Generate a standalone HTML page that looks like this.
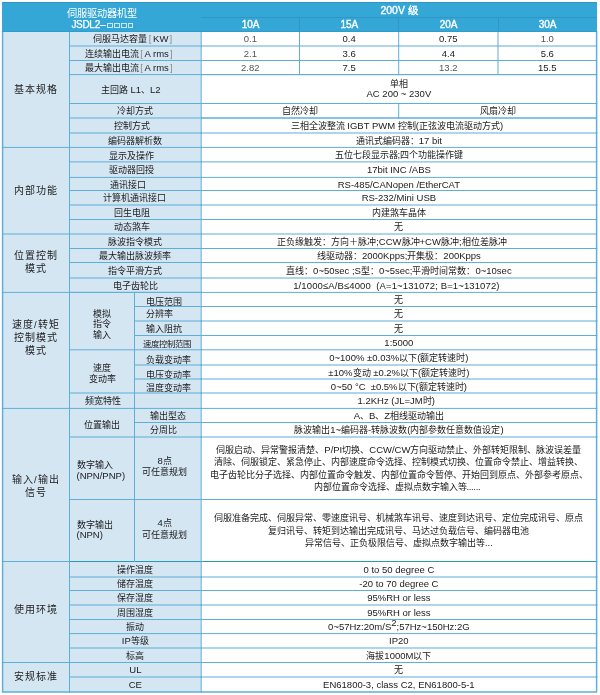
<!DOCTYPE html>
<html lang="zh-CN"><head><meta charset="utf-8"><style>
*{margin:0;padding:0;box-sizing:border-box}
html,body{width:600px;height:695px;background:#fff;overflow:hidden}
body{position:relative;font-family:"Liberation Sans",sans-serif;color:#1a1a1a}
.c{position:absolute;display:flex;flex-direction:column;align-items:center;justify-content:center;text-align:center;white-space:nowrap;font-size:9px;line-height:12px}
i{position:absolute;background:#5eaed8;display:block}
i.hl{background:#2e97c6}
i.hl2{background:#2f9dcc}
.hd{color:#fff;font-size:10px}
.hv2{font-size:10.5px}
.hv,.hv2{-webkit-text-stroke:0.35px #fff}
.h1{font-size:10.2px;line-height:11px}
.h2{font-size:10px;line-height:12px;letter-spacing:-0.3px;-webkit-text-stroke:0.25px #fff;margin-left:1.5px}
.sq{display:inline-block;width:5.4px;height:5.2px;border:1px solid rgba(255,255,255,0.72);margin-left:1.5px;vertical-align:0.3px}
.sq:first-of-type{margin-left:2.2px}
.cat{font-size:10px;line-height:12.8px;color:#222;letter-spacing:1.2px}
.lab{font-size:9px}
.val,.lab{padding-top:1.2px}
.sm{font-size:8.3px}
.br{color:#8a8a8a}
.bl{margin:0 1.6px 0 1.4px}
.brr{margin:0 0 0 1.2px}
.l{font-size:9.5px}
.ml1{line-height:9.5px}
.ml2{line-height:10.5px}
.ml3{line-height:10.5px}
.ml4{line-height:11.6px}
.big{line-height:12.6px}
.dots{letter-spacing:-0.35px}
sup{font-size:4.5px;line-height:0;vertical-align:4px}
.c>div{filter:blur(0.3px)}
</style></head><body>
<div class="c cat" style="left:2.6px;top:31.5px;width:66.9px;height:115.9px;background:#d5e6f3;"><div style="transform:translate(0px,1.3px);">基本规格</div></div>
<div class="c cat" style="left:2.6px;top:147.4px;width:66.9px;height:86.6px;background:#d5e6f3;"><div style="transform:translate(0px,1.2px);">内部功能</div></div>
<div class="c cat" style="left:2.6px;top:234px;width:66.9px;height:58.4px;background:#d5e6f3;"><div>位置控制<br>模式</div></div>
<div class="c cat" style="left:2.6px;top:292.4px;width:66.9px;height:116px;background:#d5e6f3;"><div style="transform:translate(0px,-11.9px);">速度<span class="l">/</span>转矩<br>控制模式<br>模式</div></div>
<div class="c cat" style="left:2.6px;top:408.4px;width:66.9px;height:153.1px;background:#d5e6f3;"><div style="transform:translate(0px,2.4px);">输入<span class="l">/</span>输出<br>信号</div></div>
<div class="c cat" style="left:2.6px;top:561.5px;width:66.9px;height:101px;background:#d5e6f3;"><div style="transform:translate(0px,-2.2px);">使用环境</div></div>
<div class="c cat" style="left:2.6px;top:662.5px;width:66.9px;height:29.5px;background:#d5e6f3;"><div>安规标准</div></div>
<div class="c lab" style="left:69.5px;top:31.5px;width:131.7px;height:14.5px;background:#d5e6f3;"><div style="transform:translate(-2.5px,0px);">伺服马达容量<span class="br bl"><span class="l">[</span></span><span class="l">KW</span><span class="br brr"><span class="l">]</span></span></div></div>
<div class="c lab" style="left:69.5px;top:46px;width:131.7px;height:14.5px;background:#d5e6f3;"><div style="transform:translate(-6.5px,0px);">连续输出电流<span class="br bl"><span class="l">[</span></span><span class="l">A rms</span><span class="br brr"><span class="l">]</span></span></div></div>
<div class="c lab" style="left:69.5px;top:60.5px;width:131.7px;height:14.1px;background:#d5e6f3;"><div style="transform:translate(-6.5px,0px);">最大输出电流<span class="br bl"><span class="l">[</span></span><span class="l">A rms</span><span class="br brr"><span class="l">]</span></span></div></div>
<div class="c lab" style="left:69.5px;top:103.5px;width:131.7px;height:14.5px;background:#d5e6f3;"><div>冷却方式</div></div>
<div class="c lab" style="left:69.5px;top:118px;width:131.7px;height:15px;background:#d5e6f3;"><div style="transform:translate(-3px,0px);">控制方式</div></div>
<div class="c lab" style="left:69.5px;top:133px;width:131.7px;height:14.4px;background:#d5e6f3;"><div>编码器解析数</div></div>
<div class="c lab" style="left:69.5px;top:147.4px;width:131.7px;height:14.5px;background:#d5e6f3;"><div style="transform:translate(-3.8px,0.8px);">显示及操作</div></div>
<div class="c lab" style="left:69.5px;top:161.9px;width:131.7px;height:15.5px;background:#d5e6f3;"><div style="transform:translate(-3.6px,0px);">驱动器回授</div></div>
<div class="c lab" style="left:69.5px;top:177.4px;width:131.7px;height:13.1px;background:#d5e6f3;"><div style="transform:translate(-7.8px,0px);">通讯接口</div></div>
<div class="c lab" style="left:69.5px;top:190.5px;width:131.7px;height:14.5px;background:#d5e6f3;"><div style="transform:translate(-0.5px,0px);">计算机通讯接口</div></div>
<div class="c lab" style="left:69.5px;top:205px;width:131.7px;height:14.5px;background:#d5e6f3;"><div style="transform:translate(-3px,0px);">回生电阻</div></div>
<div class="c lab" style="left:69.5px;top:219.5px;width:131.7px;height:14.5px;background:#d5e6f3;"><div style="transform:translate(-3.2px,0px);">动态煞车</div></div>
<div class="c lab" style="left:69.5px;top:234px;width:131.7px;height:14.5px;background:#d5e6f3;"><div>脉波指令模式</div></div>
<div class="c lab" style="left:69.5px;top:248.5px;width:131.7px;height:14px;background:#d5e6f3;"><div>最大输出脉波频率</div></div>
<div class="c lab" style="left:69.5px;top:262.5px;width:131.7px;height:15.5px;background:#d5e6f3;"><div>指令平滑方式</div></div>
<div class="c lab" style="left:69.5px;top:278px;width:131.7px;height:14.4px;background:#d5e6f3;"><div>电子齿轮比</div></div>
<div class="c lab" style="left:69.5px;top:561.5px;width:131.7px;height:15.5px;background:#d5e6f3;"><div>操作温度</div></div>
<div class="c lab" style="left:69.5px;top:577px;width:131.7px;height:13.5px;background:#d5e6f3;"><div>储存温度</div></div>
<div class="c lab" style="left:69.5px;top:590.5px;width:131.7px;height:14.5px;background:#d5e6f3;"><div>保存湿度</div></div>
<div class="c lab" style="left:69.5px;top:605px;width:131.7px;height:14.5px;background:#d5e6f3;"><div>周围湿度</div></div>
<div class="c lab" style="left:69.5px;top:619.5px;width:131.7px;height:14.1px;background:#d5e6f3;"><div>振动</div></div>
<div class="c lab" style="left:69.5px;top:633.6px;width:131.7px;height:14.4px;background:#d5e6f3;"><div><span class="l">IP</span>等级</div></div>
<div class="c lab" style="left:69.5px;top:648px;width:131.7px;height:14.5px;background:#d5e6f3;"><div>标高</div></div>
<div class="c lab" style="left:69.5px;top:662.5px;width:131.7px;height:14.5px;background:#d5e6f3;"><div><span class="l">UL</span></div></div>
<div class="c lab" style="left:69.5px;top:677px;width:131.7px;height:15px;background:#d5e6f3;"><div><span class="l">CE</span></div></div>
<div class="c lab" style="left:69.5px;top:74.6px;width:131.7px;height:28.9px;background:#d5e6f3;"><div style="transform:translate(-4.6px,0px);">主回路<span class="l"> L1</span>、<span class="l">L2</span></div></div>
<div class="c lab ml2" style="left:69.5px;top:292.4px;width:65px;height:57.4px;background:#d5e6f3;"><div style="transform:translate(0px,3px);">模拟<br>指令<br>输入</div></div>
<div class="c lab ml2" style="left:69.5px;top:349.8px;width:65px;height:43.2px;background:#d5e6f3;"><div style="transform:translate(0px,1.5px);">速度<br>变动率</div></div>
<div class="c lab" style="left:69.5px;top:393px;width:65px;height:15.4px;background:#d5e6f3;"><div style="transform:translate(1.3px,0px);">频宽特性</div></div>
<div class="c lab" style="left:134.5px;top:292.4px;width:66.7px;height:14.1px;background:#d5e6f3;align-items:flex-start;padding-left:11.6px"><div style="transform:translate(0px,1.8px);">电压范围</div></div>
<div class="c lab" style="left:134.5px;top:306.5px;width:66.7px;height:14.5px;background:#d5e6f3;align-items:flex-start;padding-left:11.6px"><div>分辨率</div></div>
<div class="c lab" style="left:134.5px;top:321px;width:66.7px;height:14.5px;background:#d5e6f3;align-items:flex-start;padding-left:11.6px"><div style="transform:translate(0px,0.3px);">输入阻抗</div></div>
<div class="c lab" style="left:134.5px;top:335.5px;width:66.7px;height:14.3px;background:#d5e6f3;align-items:flex-start;padding-left:8.3px"><div style="transform:translate(0px,0.5px);"><span class="sm">速度控制范围</span></div></div>
<div class="c lab" style="left:134.5px;top:349.8px;width:66.7px;height:15.2px;background:#d5e6f3;align-items:flex-start;padding-left:11.6px"><div style="transform:translate(0px,1.7px);">负载变动率</div></div>
<div class="c lab" style="left:134.5px;top:365px;width:66.7px;height:14px;background:#d5e6f3;align-items:flex-start;padding-left:11.6px"><div style="transform:translate(0px,1.6px);">电压变动率</div></div>
<div class="c lab" style="left:134.5px;top:379px;width:66.7px;height:14px;background:#d5e6f3;align-items:flex-start;padding-left:11.6px"><div style="transform:translate(0px,1.1px);">温度变动率</div></div>
<div class="c lab" style="left:134.5px;top:393px;width:66.7px;height:15.4px;background:#d5e6f3;align-items:flex-start;padding-left:11.6px"><div></div></div>
<div class="c lab" style="left:69.5px;top:408.4px;width:65px;height:28.6px;background:#d5e6f3;"><div style="transform:translate(0px,2px);">位置输出</div></div>
<div class="c lab" style="left:134.5px;top:408.4px;width:66.7px;height:14.1px;background:#d5e6f3;align-items:flex-start;padding-left:15.2px"><div>输出型态</div></div>
<div class="c lab" style="left:134.5px;top:422.5px;width:66.7px;height:14.5px;background:#d5e6f3;align-items:flex-start;padding-left:15.2px"><div>分周比</div></div>
<div class="c lab ml3" style="left:69.5px;top:437px;width:65px;height:62.5px;background:#d5e6f3;align-items:flex-start;text-align:left;padding-left:7px"><div style="transform:translate(0px,1.5px);">数字输入<br><span class="l">(NPN/PNP)</span></div></div>
<div class="c lab ml4" style="left:134.5px;top:437px;width:66.7px;height:62.5px;background:#d5e6f3;"><div style="transform:translate(-3.2px,-1.6px);"><span class="l">8</span>点<br>可任意规划</div></div>
<div class="c lab ml3" style="left:69.5px;top:499.5px;width:65px;height:62px;background:#d5e6f3;align-items:flex-start;text-align:left;padding-left:7px"><div style="transform:translate(0px,-1.3px);">数字输出<br><span class="l">(NPN)</span></div></div>
<div class="c lab ml4" style="left:134.5px;top:499.5px;width:66.7px;height:62px;background:#d5e6f3;"><div style="transform:translate(-3.2px,-2.2px);"><span class="l">4</span>点<br>可任意规划</div></div>
<div class="c val" style="left:201.2px;top:31.5px;width:98.3px;height:14.5px;background:#ffffff;color:#555;"><div><span class="l">0.1</span></div></div>
<div class="c val" style="left:299.5px;top:31.5px;width:99.2px;height:14.5px;background:#ffffff;"><div><span class="l">0.4</span></div></div>
<div class="c val" style="left:398.7px;top:31.5px;width:99.3px;height:14.5px;background:#ffffff;"><div><span class="l">0.75</span></div></div>
<div class="c val" style="left:498px;top:31.5px;width:98.6px;height:14.5px;background:#ffffff;color:#555;"><div><span class="l">1.0</span></div></div>
<div class="c val" style="left:201.2px;top:46px;width:98.3px;height:14.5px;background:#ffffff;color:#555;"><div><span class="l">2.1</span></div></div>
<div class="c val" style="left:299.5px;top:46px;width:99.2px;height:14.5px;background:#ffffff;"><div><span class="l">3.6</span></div></div>
<div class="c val" style="left:398.7px;top:46px;width:99.3px;height:14.5px;background:#ffffff;"><div><span class="l">4.4</span></div></div>
<div class="c val" style="left:498px;top:46px;width:98.6px;height:14.5px;background:#ffffff;"><div><span class="l">5.6</span></div></div>
<div class="c val" style="left:201.2px;top:60.5px;width:98.3px;height:14.1px;background:#ffffff;color:#555;"><div><span class="l">2.82</span></div></div>
<div class="c val" style="left:299.5px;top:60.5px;width:99.2px;height:14.1px;background:#ffffff;"><div><span class="l">7.5</span></div></div>
<div class="c val" style="left:398.7px;top:60.5px;width:99.3px;height:14.1px;background:#ffffff;color:#555;"><div><span class="l">13.2</span></div></div>
<div class="c val" style="left:498px;top:60.5px;width:98.6px;height:14.1px;background:#ffffff;"><div><span class="l">15.5</span></div></div>
<div class="c val ml1" style="left:201.2px;top:74.6px;width:395.4px;height:28.9px;background:#ffffff;"><div>单相<br><span class="l">AC 200 ~ 230V</span></div></div>
<div class="c val" style="left:201.2px;top:103.5px;width:197.5px;height:14.5px;background:#ffffff;"><div>自然冷却</div></div>
<div class="c val" style="left:398.7px;top:103.5px;width:197.9px;height:14.5px;background:#ffffff;"><div>风扇冷却</div></div>
<div class="c val" style="left:201.2px;top:118px;width:395.4px;height:15px;background:#ffffff;"><div style="transform:translate(-2px,0px);">三相全波整流<span class="l"> IGBT PWM </span>控制<span class="l">(</span>正弦波电流驱动方式<span class="l">)</span></div></div>
<div class="c val" style="left:201.2px;top:133px;width:395.4px;height:14.4px;background:#ffffff;"><div>通讯式编码器：<span class="l">17 bit</span></div></div>
<div class="c val" style="left:201.2px;top:147.4px;width:395.4px;height:14.5px;background:#ffffff;"><div>五位七段显示器<span class="l">;</span>四个功能操作键</div></div>
<div class="c val" style="left:201.2px;top:161.9px;width:395.4px;height:15.5px;background:#ffffff;"><div><span class="l">17bit INC /ABS</span></div></div>
<div class="c val" style="left:201.2px;top:177.4px;width:395.4px;height:13.1px;background:#ffffff;"><div><span class="l">RS-485/CANopen /EtherCAT</span></div></div>
<div class="c val" style="left:201.2px;top:190.5px;width:395.4px;height:14.5px;background:#ffffff;"><div><span class="l">RS-232/Mini USB</span></div></div>
<div class="c val" style="left:201.2px;top:205px;width:395.4px;height:14.5px;background:#ffffff;"><div>内建煞车晶体</div></div>
<div class="c val" style="left:201.2px;top:219.5px;width:395.4px;height:14.5px;background:#ffffff;"><div>无</div></div>
<div class="c val" style="left:201.2px;top:234px;width:395.4px;height:14.5px;background:#ffffff;"><div style="transform:translate(-7px,0px);">正负缘触发：方向＋脉冲<span class="l">;CCW</span>脉冲<span class="l">+CW</span>脉冲<span class="l">;</span>相位差脉冲</div></div>
<div class="c val" style="left:201.2px;top:248.5px;width:395.4px;height:14px;background:#ffffff;"><div>线驱动器：<span class="l">2000Kpps;</span>开集极：<span class="l">200Kpps</span></div></div>
<div class="c val" style="left:201.2px;top:262.5px;width:395.4px;height:15.5px;background:#ffffff;"><div>直线：<span class="l">0~50sec ;S</span>型：<span class="l">0~5sec;</span>平滑时间常数：<span class="l">0~10sec</span></div></div>
<div class="c val" style="left:201.2px;top:278px;width:395.4px;height:14.4px;background:#ffffff;letter-spacing:0.12px;"><div style="transform:translate(-2.5px,0px);"><span class="l">1/1000≤A/B≤4000</span>&nbsp;<span class="l"> (A=1~131072; B=1~131072)</span></div></div>
<div class="c val" style="left:201.2px;top:292.4px;width:395.4px;height:14.1px;background:#ffffff;"><div>无</div></div>
<div class="c val" style="left:201.2px;top:306.5px;width:395.4px;height:14.5px;background:#ffffff;"><div>无</div></div>
<div class="c val" style="left:201.2px;top:321px;width:395.4px;height:14.5px;background:#ffffff;"><div>无</div></div>
<div class="c val" style="left:201.2px;top:335.5px;width:395.4px;height:14.3px;background:#ffffff;"><div><span class="l">1:5000</span></div></div>
<div class="c val" style="left:201.2px;top:349.8px;width:395.4px;height:15.2px;background:#ffffff;"><div><span class="l">0~100% ±0.03%</span>以下<span class="l">(</span>额定转速时<span class="l">)</span></div></div>
<div class="c val" style="left:201.2px;top:365px;width:395.4px;height:14px;background:#ffffff;"><div><span class="l">±10%</span>变动<span class="l"> ±0.2%</span>以下<span class="l">(</span>额定转速时<span class="l">)</span></div></div>
<div class="c val" style="left:201.2px;top:379px;width:395.4px;height:14px;background:#ffffff;"><div><span class="l">0~50 °C</span>&nbsp;<span class="l"> ±0.5%</span>以下<span class="l">(</span>额定转速时<span class="l">)</span></div></div>
<div class="c val" style="left:201.2px;top:393px;width:395.4px;height:15.4px;background:#ffffff;"><div style="transform:translate(-2.7px,0px);"><span class="l">1.2KHz (JL=JM</span>时<span class="l">)</span></div></div>
<div class="c val" style="left:201.2px;top:408.4px;width:395.4px;height:14.1px;background:#ffffff;"><div><span class="l">A</span>、<span class="l">B</span>、<span class="l">Z</span>相线驱动输出</div></div>
<div class="c val" style="left:201.2px;top:422.5px;width:395.4px;height:14.5px;background:#ffffff;"><div>脉波输出<span class="l">1~</span>编码器<span class="l">-</span>转脉波数<span class="l">(</span>内部参数任意数值设定<span class="l">)</span></div></div>
<div class="c val" style="left:201.2px;top:561.5px;width:395.4px;height:15.5px;background:#ffffff;"><div><span class="l">0 to 50 degree C</span></div></div>
<div class="c val" style="left:201.2px;top:577px;width:395.4px;height:13.5px;background:#ffffff;"><div><span class="l">-20 to 70 degree C</span></div></div>
<div class="c val" style="left:201.2px;top:590.5px;width:395.4px;height:14.5px;background:#ffffff;"><div><span class="l">95%RH or less</span></div></div>
<div class="c val" style="left:201.2px;top:605px;width:395.4px;height:14.5px;background:#ffffff;"><div><span class="l">95%RH or less</span></div></div>
<div class="c val" style="left:201.2px;top:619.5px;width:395.4px;height:14.1px;background:#ffffff;"><div><span class="l">0~57Hz:20m/S</span><sup><span class="l">2</span></sup><span class="l">;57Hz~150Hz:2G</span></div></div>
<div class="c val" style="left:201.2px;top:633.6px;width:395.4px;height:14.4px;background:#ffffff;"><div><span class="l">IP20</span></div></div>
<div class="c val" style="left:201.2px;top:648px;width:395.4px;height:14.5px;background:#ffffff;"><div>海拔<span class="l">1000M</span>以下</div></div>
<div class="c val" style="left:201.2px;top:662.5px;width:395.4px;height:14.5px;background:#ffffff;"><div>无</div></div>
<div class="c val" style="left:201.2px;top:677px;width:395.4px;height:15px;background:#ffffff;"><div><span class="l">EN61800-3, class C2, EN61800-5-1</span></div></div>
<div class="c val big" style="left:201.2px;top:437px;width:395.4px;height:62.5px;background:#ffffff;"><div style="transform:translate(0px,-0.4px);">伺服启动、异常警报清楚、<span class="l">P/PI</span>切换、<span class="l">CCW/CW</span>方向驱动禁止、外部转矩限制、脉波误差量<br>清除、伺服锁定、紧急停止、内部速度命令选择、控制模式切换、位置命令禁止、增益转换、<br>电子齿轮比分子选择、内部位置命令触发、内部位置命令暂停、开始回到原点、外部参考原点、<br><span style="position:relative;left:-2px">内部位置命令选择、虚拟点数字输入等<span class="dots"><span class="l">......</span></span></span></div></div>
<div class="c val big" style="left:201.2px;top:499.5px;width:395.4px;height:62px;background:#ffffff;"><div>伺服准备完成、伺服异常、零速度讯号、机械煞车讯号、速度到达讯号、定位完成讯号、原点<br>复归讯号、转矩到达输出完成讯号、马达过负载信号、编码器电池<br>异常信号、正负极限信号、虚拟点数字输出等<span class="l">...</span></div></div>
<i style="left:2px;top:31px;width:68px;height:1px;opacity:1;"></i>
<i style="left:69px;top:31px;width:133px;height:1px;opacity:1;"></i>
<i style="left:201px;top:31px;width:99px;height:1px;opacity:1;"></i>
<i style="left:299px;top:31px;width:100px;height:1px;opacity:1;"></i>
<i style="left:398px;top:31px;width:100px;height:1px;opacity:1;"></i>
<i style="left:498px;top:31px;width:99px;height:1px;opacity:1;"></i>
<i style="left:69px;top:45px;width:133px;height:1px;opacity:0.5;"></i>
<i style="left:69px;top:46px;width:133px;height:1px;opacity:0.5;"></i>
<i style="left:201px;top:45px;width:99px;height:1px;opacity:0.5;"></i>
<i style="left:201px;top:46px;width:99px;height:1px;opacity:0.5;"></i>
<i style="left:299px;top:45px;width:100px;height:1px;opacity:0.5;"></i>
<i style="left:299px;top:46px;width:100px;height:1px;opacity:0.5;"></i>
<i style="left:398px;top:45px;width:100px;height:1px;opacity:0.5;"></i>
<i style="left:398px;top:46px;width:100px;height:1px;opacity:0.5;"></i>
<i style="left:498px;top:45px;width:99px;height:1px;opacity:0.5;"></i>
<i style="left:498px;top:46px;width:99px;height:1px;opacity:0.5;"></i>
<i style="left:69px;top:60px;width:133px;height:1px;opacity:1;"></i>
<i style="left:201px;top:60px;width:99px;height:1px;opacity:1;"></i>
<i style="left:299px;top:60px;width:100px;height:1px;opacity:1;"></i>
<i style="left:398px;top:60px;width:100px;height:1px;opacity:1;"></i>
<i style="left:498px;top:60px;width:99px;height:1px;opacity:1;"></i>
<i style="left:69px;top:74px;width:133px;height:1px;opacity:0.9;"></i>
<i style="left:69px;top:75px;width:133px;height:1px;opacity:0.1;"></i>
<i style="left:201px;top:74px;width:99px;height:1px;opacity:0.9;"></i>
<i style="left:201px;top:75px;width:99px;height:1px;opacity:0.1;"></i>
<i style="left:201px;top:74px;width:396px;height:1px;opacity:0.9;"></i>
<i style="left:201px;top:75px;width:396px;height:1px;opacity:0.1;"></i>
<i style="left:299px;top:74px;width:100px;height:1px;opacity:0.9;"></i>
<i style="left:299px;top:75px;width:100px;height:1px;opacity:0.1;"></i>
<i style="left:398px;top:74px;width:100px;height:1px;opacity:0.9;"></i>
<i style="left:398px;top:75px;width:100px;height:1px;opacity:0.1;"></i>
<i style="left:498px;top:74px;width:99px;height:1px;opacity:0.9;"></i>
<i style="left:498px;top:75px;width:99px;height:1px;opacity:0.1;"></i>
<i style="left:69px;top:103px;width:133px;height:1px;opacity:1;"></i>
<i style="left:201px;top:103px;width:198px;height:1px;opacity:1;"></i>
<i style="left:201px;top:103px;width:396px;height:1px;opacity:1;"></i>
<i style="left:398px;top:103px;width:199px;height:1px;opacity:1;"></i>
<i style="left:69px;top:117px;width:133px;height:1px;opacity:0.5;"></i>
<i style="left:69px;top:118px;width:133px;height:1px;opacity:0.5;"></i>
<i style="left:201px;top:117px;width:198px;height:1px;opacity:0.5;"></i>
<i style="left:201px;top:118px;width:198px;height:1px;opacity:0.5;"></i>
<i style="left:201px;top:117px;width:396px;height:1px;opacity:0.5;"></i>
<i style="left:201px;top:118px;width:396px;height:1px;opacity:0.5;"></i>
<i style="left:398px;top:117px;width:199px;height:1px;opacity:0.5;"></i>
<i style="left:398px;top:118px;width:199px;height:1px;opacity:0.5;"></i>
<i style="left:69px;top:132px;width:133px;height:1px;opacity:0.5;"></i>
<i style="left:69px;top:133px;width:133px;height:1px;opacity:0.5;"></i>
<i style="left:201px;top:132px;width:396px;height:1px;opacity:0.5;"></i>
<i style="left:201px;top:133px;width:396px;height:1px;opacity:0.5;"></i>
<i style="left:2px;top:146px;width:68px;height:1px;opacity:0.1;"></i>
<i style="left:2px;top:147px;width:68px;height:1px;opacity:0.9;"></i>
<i style="left:69px;top:146px;width:133px;height:1px;opacity:0.1;"></i>
<i style="left:69px;top:147px;width:133px;height:1px;opacity:0.9;"></i>
<i style="left:201px;top:146px;width:396px;height:1px;opacity:0.1;"></i>
<i style="left:201px;top:147px;width:396px;height:1px;opacity:0.9;"></i>
<i style="left:69px;top:161px;width:133px;height:1px;opacity:0.6;"></i>
<i style="left:69px;top:162px;width:133px;height:1px;opacity:0.4;"></i>
<i style="left:201px;top:161px;width:396px;height:1px;opacity:0.6;"></i>
<i style="left:201px;top:162px;width:396px;height:1px;opacity:0.4;"></i>
<i style="left:69px;top:176px;width:133px;height:1px;opacity:0.1;"></i>
<i style="left:69px;top:177px;width:133px;height:1px;opacity:0.9;"></i>
<i style="left:201px;top:176px;width:396px;height:1px;opacity:0.1;"></i>
<i style="left:201px;top:177px;width:396px;height:1px;opacity:0.9;"></i>
<i style="left:69px;top:190px;width:133px;height:1px;opacity:1;"></i>
<i style="left:201px;top:190px;width:396px;height:1px;opacity:1;"></i>
<i style="left:69px;top:204px;width:133px;height:1px;opacity:0.5;"></i>
<i style="left:69px;top:205px;width:133px;height:1px;opacity:0.5;"></i>
<i style="left:201px;top:204px;width:396px;height:1px;opacity:0.5;"></i>
<i style="left:201px;top:205px;width:396px;height:1px;opacity:0.5;"></i>
<i style="left:69px;top:219px;width:133px;height:1px;opacity:1;"></i>
<i style="left:201px;top:219px;width:396px;height:1px;opacity:1;"></i>
<i style="left:2px;top:233px;width:68px;height:1px;opacity:0.5;"></i>
<i style="left:2px;top:234px;width:68px;height:1px;opacity:0.5;"></i>
<i style="left:69px;top:233px;width:133px;height:1px;opacity:0.5;"></i>
<i style="left:69px;top:234px;width:133px;height:1px;opacity:0.5;"></i>
<i style="left:201px;top:233px;width:396px;height:1px;opacity:0.5;"></i>
<i style="left:201px;top:234px;width:396px;height:1px;opacity:0.5;"></i>
<i style="left:69px;top:248px;width:133px;height:1px;opacity:1;"></i>
<i style="left:201px;top:248px;width:396px;height:1px;opacity:1;"></i>
<i style="left:69px;top:262px;width:133px;height:1px;opacity:1;"></i>
<i style="left:201px;top:262px;width:396px;height:1px;opacity:1;"></i>
<i style="left:69px;top:277px;width:133px;height:1px;opacity:0.5;"></i>
<i style="left:69px;top:278px;width:133px;height:1px;opacity:0.5;"></i>
<i style="left:201px;top:277px;width:396px;height:1px;opacity:0.5;"></i>
<i style="left:201px;top:278px;width:396px;height:1px;opacity:0.5;"></i>
<i style="left:2px;top:291px;width:68px;height:1px;opacity:0.1;"></i>
<i style="left:2px;top:292px;width:68px;height:1px;opacity:0.9;"></i>
<i style="left:69px;top:291px;width:66px;height:1px;opacity:0.1;"></i>
<i style="left:69px;top:292px;width:66px;height:1px;opacity:0.9;"></i>
<i style="left:69px;top:291px;width:133px;height:1px;opacity:0.1;"></i>
<i style="left:69px;top:292px;width:133px;height:1px;opacity:0.9;"></i>
<i style="left:134px;top:291px;width:68px;height:1px;opacity:0.1;"></i>
<i style="left:134px;top:292px;width:68px;height:1px;opacity:0.9;"></i>
<i style="left:201px;top:291px;width:396px;height:1px;opacity:0.1;"></i>
<i style="left:201px;top:292px;width:396px;height:1px;opacity:0.9;"></i>
<i style="left:134px;top:306px;width:68px;height:1px;opacity:1;"></i>
<i style="left:201px;top:306px;width:396px;height:1px;opacity:1;"></i>
<i style="left:134px;top:320px;width:68px;height:1px;opacity:0.5;"></i>
<i style="left:134px;top:321px;width:68px;height:1px;opacity:0.5;"></i>
<i style="left:201px;top:320px;width:396px;height:1px;opacity:0.5;"></i>
<i style="left:201px;top:321px;width:396px;height:1px;opacity:0.5;"></i>
<i style="left:134px;top:335px;width:68px;height:1px;opacity:1;"></i>
<i style="left:201px;top:335px;width:396px;height:1px;opacity:1;"></i>
<i style="left:69px;top:349px;width:66px;height:1px;opacity:0.7;"></i>
<i style="left:69px;top:350px;width:66px;height:1px;opacity:0.3;"></i>
<i style="left:134px;top:349px;width:68px;height:1px;opacity:0.7;"></i>
<i style="left:134px;top:350px;width:68px;height:1px;opacity:0.3;"></i>
<i style="left:201px;top:349px;width:396px;height:1px;opacity:0.7;"></i>
<i style="left:201px;top:350px;width:396px;height:1px;opacity:0.3;"></i>
<i style="left:134px;top:364px;width:68px;height:1px;opacity:0.5;"></i>
<i style="left:134px;top:365px;width:68px;height:1px;opacity:0.5;"></i>
<i style="left:201px;top:364px;width:396px;height:1px;opacity:0.5;"></i>
<i style="left:201px;top:365px;width:396px;height:1px;opacity:0.5;"></i>
<i style="left:134px;top:378px;width:68px;height:1px;opacity:0.5;"></i>
<i style="left:134px;top:379px;width:68px;height:1px;opacity:0.5;"></i>
<i style="left:201px;top:378px;width:396px;height:1px;opacity:0.5;"></i>
<i style="left:201px;top:379px;width:396px;height:1px;opacity:0.5;"></i>
<i style="left:69px;top:392px;width:66px;height:1px;opacity:0.5;"></i>
<i style="left:69px;top:393px;width:66px;height:1px;opacity:0.5;"></i>
<i style="left:134px;top:392px;width:68px;height:1px;opacity:0.5;"></i>
<i style="left:134px;top:393px;width:68px;height:1px;opacity:0.5;"></i>
<i style="left:201px;top:392px;width:396px;height:1px;opacity:0.5;"></i>
<i style="left:201px;top:393px;width:396px;height:1px;opacity:0.5;"></i>
<i style="left:2px;top:407px;width:68px;height:1px;opacity:0.1;"></i>
<i style="left:2px;top:408px;width:68px;height:1px;opacity:0.9;"></i>
<i style="left:69px;top:407px;width:66px;height:1px;opacity:0.1;"></i>
<i style="left:69px;top:408px;width:66px;height:1px;opacity:0.9;"></i>
<i style="left:134px;top:407px;width:68px;height:1px;opacity:0.1;"></i>
<i style="left:134px;top:408px;width:68px;height:1px;opacity:0.9;"></i>
<i style="left:201px;top:407px;width:396px;height:1px;opacity:0.1;"></i>
<i style="left:201px;top:408px;width:396px;height:1px;opacity:0.9;"></i>
<i style="left:134px;top:422px;width:68px;height:1px;opacity:1;"></i>
<i style="left:201px;top:422px;width:396px;height:1px;opacity:1;"></i>
<i style="left:69px;top:436px;width:66px;height:1px;opacity:0.5;"></i>
<i style="left:69px;top:437px;width:66px;height:1px;opacity:0.5;"></i>
<i style="left:134px;top:436px;width:68px;height:1px;opacity:0.5;"></i>
<i style="left:134px;top:437px;width:68px;height:1px;opacity:0.5;"></i>
<i style="left:201px;top:436px;width:396px;height:1px;opacity:0.5;"></i>
<i style="left:201px;top:437px;width:396px;height:1px;opacity:0.5;"></i>
<i style="left:69px;top:499px;width:66px;height:1px;opacity:1;"></i>
<i style="left:134px;top:499px;width:68px;height:1px;opacity:1;"></i>
<i style="left:201px;top:499px;width:396px;height:1px;opacity:1;"></i>
<i style="left:2px;top:561px;width:68px;height:1px;opacity:1;"></i>
<i style="left:69px;top:561px;width:66px;height:1px;opacity:1;background:#259bb0;"></i>
<i style="left:69px;top:561px;width:133px;height:1px;opacity:1;background:#259bb0;"></i>
<i style="left:134px;top:561px;width:68px;height:1px;opacity:1;background:#259bb0;"></i>
<i style="left:201px;top:561px;width:396px;height:1px;opacity:1;background:#259bb0;"></i>
<i style="left:69px;top:576px;width:133px;height:1px;opacity:0.5;"></i>
<i style="left:69px;top:577px;width:133px;height:1px;opacity:0.5;"></i>
<i style="left:201px;top:576px;width:396px;height:1px;opacity:0.5;"></i>
<i style="left:201px;top:577px;width:396px;height:1px;opacity:0.5;"></i>
<i style="left:69px;top:590px;width:133px;height:1px;opacity:1;"></i>
<i style="left:201px;top:590px;width:396px;height:1px;opacity:1;"></i>
<i style="left:69px;top:604px;width:133px;height:1px;opacity:0.5;"></i>
<i style="left:69px;top:605px;width:133px;height:1px;opacity:0.5;"></i>
<i style="left:201px;top:604px;width:396px;height:1px;opacity:0.5;"></i>
<i style="left:201px;top:605px;width:396px;height:1px;opacity:0.5;"></i>
<i style="left:69px;top:619px;width:133px;height:1px;opacity:1;"></i>
<i style="left:201px;top:619px;width:396px;height:1px;opacity:1;"></i>
<i style="left:69px;top:633px;width:133px;height:1px;opacity:0.9;"></i>
<i style="left:69px;top:634px;width:133px;height:1px;opacity:0.1;"></i>
<i style="left:201px;top:633px;width:396px;height:1px;opacity:0.9;"></i>
<i style="left:201px;top:634px;width:396px;height:1px;opacity:0.1;"></i>
<i style="left:69px;top:647px;width:133px;height:1px;opacity:0.5;"></i>
<i style="left:69px;top:648px;width:133px;height:1px;opacity:0.5;"></i>
<i style="left:201px;top:647px;width:396px;height:1px;opacity:0.5;"></i>
<i style="left:201px;top:648px;width:396px;height:1px;opacity:0.5;"></i>
<i style="left:2px;top:662px;width:68px;height:1px;opacity:1;"></i>
<i style="left:69px;top:662px;width:133px;height:1px;opacity:1;"></i>
<i style="left:201px;top:662px;width:396px;height:1px;opacity:1;"></i>
<i style="left:69px;top:676px;width:133px;height:1px;opacity:0.5;"></i>
<i style="left:69px;top:677px;width:133px;height:1px;opacity:0.5;"></i>
<i style="left:201px;top:676px;width:396px;height:1px;opacity:0.5;"></i>
<i style="left:201px;top:677px;width:396px;height:1px;opacity:0.5;"></i>
<i style="left:2px;top:691px;width:68px;height:1px;opacity:0.75;"></i>
<i style="left:2px;top:692px;width:68px;height:1px;opacity:0.75;"></i>
<i style="left:69px;top:691px;width:133px;height:1px;opacity:0.75;"></i>
<i style="left:69px;top:692px;width:133px;height:1px;opacity:0.75;"></i>
<i style="left:201px;top:691px;width:396px;height:1px;opacity:0.75;"></i>
<i style="left:201px;top:692px;width:396px;height:1px;opacity:0.75;"></i>
<i style="left:1px;top:31px;width:1px;height:117px;opacity:0.15"></i>
<i style="left:2px;top:31px;width:1px;height:117px;opacity:1"></i>
<i style="left:3px;top:31px;width:1px;height:117px;opacity:0.35"></i>
<i style="left:1px;top:147px;width:1px;height:87px;opacity:0.15"></i>
<i style="left:2px;top:147px;width:1px;height:87px;opacity:1"></i>
<i style="left:3px;top:147px;width:1px;height:87px;opacity:0.35"></i>
<i style="left:1px;top:234px;width:1px;height:59px;opacity:0.15"></i>
<i style="left:2px;top:234px;width:1px;height:59px;opacity:1"></i>
<i style="left:3px;top:234px;width:1px;height:59px;opacity:0.35"></i>
<i style="left:1px;top:292px;width:1px;height:117px;opacity:0.15"></i>
<i style="left:2px;top:292px;width:1px;height:117px;opacity:1"></i>
<i style="left:3px;top:292px;width:1px;height:117px;opacity:0.35"></i>
<i style="left:1px;top:408px;width:1px;height:154px;opacity:0.15"></i>
<i style="left:2px;top:408px;width:1px;height:154px;opacity:1"></i>
<i style="left:3px;top:408px;width:1px;height:154px;opacity:0.35"></i>
<i style="left:1px;top:561px;width:1px;height:102px;opacity:0.15"></i>
<i style="left:2px;top:561px;width:1px;height:102px;opacity:1"></i>
<i style="left:3px;top:561px;width:1px;height:102px;opacity:0.35"></i>
<i style="left:1px;top:662px;width:1px;height:30px;opacity:0.15"></i>
<i style="left:2px;top:662px;width:1px;height:30px;opacity:1"></i>
<i style="left:3px;top:662px;width:1px;height:30px;opacity:0.35"></i>
<i style="left:69px;top:31px;width:1px;height:15px;opacity:1"></i>
<i style="left:69px;top:31px;width:1px;height:117px;opacity:1"></i>
<i style="left:69px;top:46px;width:1px;height:15px;opacity:1"></i>
<i style="left:69px;top:60px;width:1px;height:15px;opacity:1"></i>
<i style="left:69px;top:74px;width:1px;height:30px;opacity:1"></i>
<i style="left:69px;top:103px;width:1px;height:15px;opacity:1"></i>
<i style="left:69px;top:118px;width:1px;height:16px;opacity:1"></i>
<i style="left:69px;top:132px;width:1px;height:16px;opacity:1"></i>
<i style="left:69px;top:147px;width:1px;height:15px;opacity:1"></i>
<i style="left:69px;top:147px;width:1px;height:87px;opacity:1"></i>
<i style="left:69px;top:161px;width:1px;height:17px;opacity:1"></i>
<i style="left:69px;top:177px;width:1px;height:14px;opacity:1"></i>
<i style="left:69px;top:190px;width:1px;height:16px;opacity:1"></i>
<i style="left:69px;top:204px;width:1px;height:16px;opacity:1"></i>
<i style="left:69px;top:219px;width:1px;height:15px;opacity:1"></i>
<i style="left:69px;top:234px;width:1px;height:15px;opacity:1"></i>
<i style="left:69px;top:234px;width:1px;height:59px;opacity:1"></i>
<i style="left:69px;top:248px;width:1px;height:15px;opacity:1"></i>
<i style="left:69px;top:262px;width:1px;height:16px;opacity:1"></i>
<i style="left:69px;top:278px;width:1px;height:15px;opacity:1"></i>
<i style="left:69px;top:292px;width:1px;height:58px;opacity:1"></i>
<i style="left:69px;top:292px;width:1px;height:117px;opacity:1"></i>
<i style="left:69px;top:349px;width:1px;height:45px;opacity:1"></i>
<i style="left:69px;top:392px;width:1px;height:17px;opacity:1"></i>
<i style="left:69px;top:408px;width:1px;height:30px;opacity:1"></i>
<i style="left:69px;top:408px;width:1px;height:154px;opacity:1"></i>
<i style="left:69px;top:436px;width:1px;height:64px;opacity:1"></i>
<i style="left:69px;top:499px;width:1px;height:63px;opacity:1"></i>
<i style="left:69px;top:561px;width:1px;height:17px;opacity:1"></i>
<i style="left:69px;top:561px;width:1px;height:102px;opacity:1"></i>
<i style="left:69px;top:576px;width:1px;height:15px;opacity:1"></i>
<i style="left:69px;top:590px;width:1px;height:16px;opacity:1"></i>
<i style="left:69px;top:604px;width:1px;height:16px;opacity:1"></i>
<i style="left:69px;top:619px;width:1px;height:15px;opacity:1"></i>
<i style="left:69px;top:633px;width:1px;height:15px;opacity:1"></i>
<i style="left:69px;top:648px;width:1px;height:15px;opacity:1"></i>
<i style="left:69px;top:662px;width:1px;height:16px;opacity:1"></i>
<i style="left:69px;top:662px;width:1px;height:30px;opacity:1"></i>
<i style="left:69px;top:676px;width:1px;height:16px;opacity:1"></i>
<i style="left:134px;top:292px;width:1px;height:15px;opacity:1"></i>
<i style="left:134px;top:292px;width:1px;height:58px;opacity:1"></i>
<i style="left:134px;top:306px;width:1px;height:16px;opacity:1"></i>
<i style="left:134px;top:320px;width:1px;height:16px;opacity:1"></i>
<i style="left:134px;top:335px;width:1px;height:15px;opacity:1"></i>
<i style="left:134px;top:349px;width:1px;height:17px;opacity:1"></i>
<i style="left:134px;top:349px;width:1px;height:45px;opacity:1"></i>
<i style="left:134px;top:364px;width:1px;height:16px;opacity:1"></i>
<i style="left:134px;top:378px;width:1px;height:16px;opacity:1"></i>
<i style="left:134px;top:392px;width:1px;height:17px;opacity:1"></i>
<i style="left:134px;top:408px;width:1px;height:15px;opacity:1"></i>
<i style="left:134px;top:408px;width:1px;height:30px;opacity:1"></i>
<i style="left:134px;top:422px;width:1px;height:16px;opacity:1"></i>
<i style="left:134px;top:436px;width:1px;height:64px;opacity:1"></i>
<i style="left:134px;top:499px;width:1px;height:63px;opacity:1"></i>
<i style="left:200px;top:31px;width:1px;height:15px;opacity:0.3"></i>
<i style="left:201px;top:31px;width:1px;height:15px;opacity:0.7"></i>
<i style="left:200px;top:46px;width:1px;height:15px;opacity:0.3"></i>
<i style="left:201px;top:46px;width:1px;height:15px;opacity:0.7"></i>
<i style="left:200px;top:60px;width:1px;height:15px;opacity:0.3"></i>
<i style="left:201px;top:60px;width:1px;height:15px;opacity:0.7"></i>
<i style="left:200px;top:74px;width:1px;height:30px;opacity:0.3"></i>
<i style="left:201px;top:74px;width:1px;height:30px;opacity:0.7"></i>
<i style="left:200px;top:103px;width:1px;height:15px;opacity:0.3"></i>
<i style="left:201px;top:103px;width:1px;height:15px;opacity:0.7"></i>
<i style="left:200px;top:118px;width:1px;height:16px;opacity:0.3"></i>
<i style="left:201px;top:118px;width:1px;height:16px;opacity:0.7"></i>
<i style="left:200px;top:132px;width:1px;height:16px;opacity:0.3"></i>
<i style="left:201px;top:132px;width:1px;height:16px;opacity:0.7"></i>
<i style="left:200px;top:147px;width:1px;height:15px;opacity:0.3"></i>
<i style="left:201px;top:147px;width:1px;height:15px;opacity:0.7"></i>
<i style="left:200px;top:161px;width:1px;height:17px;opacity:0.3"></i>
<i style="left:201px;top:161px;width:1px;height:17px;opacity:0.7"></i>
<i style="left:200px;top:177px;width:1px;height:14px;opacity:0.3"></i>
<i style="left:201px;top:177px;width:1px;height:14px;opacity:0.7"></i>
<i style="left:200px;top:190px;width:1px;height:16px;opacity:0.3"></i>
<i style="left:201px;top:190px;width:1px;height:16px;opacity:0.7"></i>
<i style="left:200px;top:204px;width:1px;height:16px;opacity:0.3"></i>
<i style="left:201px;top:204px;width:1px;height:16px;opacity:0.7"></i>
<i style="left:200px;top:219px;width:1px;height:15px;opacity:0.3"></i>
<i style="left:201px;top:219px;width:1px;height:15px;opacity:0.7"></i>
<i style="left:200px;top:234px;width:1px;height:15px;opacity:0.3"></i>
<i style="left:201px;top:234px;width:1px;height:15px;opacity:0.7"></i>
<i style="left:200px;top:248px;width:1px;height:15px;opacity:0.3"></i>
<i style="left:201px;top:248px;width:1px;height:15px;opacity:0.7"></i>
<i style="left:200px;top:262px;width:1px;height:16px;opacity:0.3"></i>
<i style="left:201px;top:262px;width:1px;height:16px;opacity:0.7"></i>
<i style="left:200px;top:278px;width:1px;height:15px;opacity:0.3"></i>
<i style="left:201px;top:278px;width:1px;height:15px;opacity:0.7"></i>
<i style="left:200px;top:292px;width:1px;height:15px;opacity:0.3"></i>
<i style="left:201px;top:292px;width:1px;height:15px;opacity:0.7"></i>
<i style="left:200px;top:306px;width:1px;height:16px;opacity:0.3"></i>
<i style="left:201px;top:306px;width:1px;height:16px;opacity:0.7"></i>
<i style="left:200px;top:320px;width:1px;height:16px;opacity:0.3"></i>
<i style="left:201px;top:320px;width:1px;height:16px;opacity:0.7"></i>
<i style="left:200px;top:335px;width:1px;height:15px;opacity:0.3"></i>
<i style="left:201px;top:335px;width:1px;height:15px;opacity:0.7"></i>
<i style="left:200px;top:349px;width:1px;height:17px;opacity:0.3"></i>
<i style="left:201px;top:349px;width:1px;height:17px;opacity:0.7"></i>
<i style="left:200px;top:364px;width:1px;height:16px;opacity:0.3"></i>
<i style="left:201px;top:364px;width:1px;height:16px;opacity:0.7"></i>
<i style="left:200px;top:378px;width:1px;height:16px;opacity:0.3"></i>
<i style="left:201px;top:378px;width:1px;height:16px;opacity:0.7"></i>
<i style="left:200px;top:392px;width:1px;height:17px;opacity:0.3"></i>
<i style="left:201px;top:392px;width:1px;height:17px;opacity:0.7"></i>
<i style="left:200px;top:408px;width:1px;height:15px;opacity:0.3"></i>
<i style="left:201px;top:408px;width:1px;height:15px;opacity:0.7"></i>
<i style="left:200px;top:422px;width:1px;height:16px;opacity:0.3"></i>
<i style="left:201px;top:422px;width:1px;height:16px;opacity:0.7"></i>
<i style="left:200px;top:436px;width:1px;height:64px;opacity:0.3"></i>
<i style="left:201px;top:436px;width:1px;height:64px;opacity:0.7"></i>
<i style="left:200px;top:499px;width:1px;height:63px;opacity:0.3"></i>
<i style="left:201px;top:499px;width:1px;height:63px;opacity:0.7"></i>
<i style="left:200px;top:561px;width:1px;height:17px;opacity:0.3"></i>
<i style="left:201px;top:561px;width:1px;height:17px;opacity:0.7"></i>
<i style="left:200px;top:576px;width:1px;height:15px;opacity:0.3"></i>
<i style="left:201px;top:576px;width:1px;height:15px;opacity:0.7"></i>
<i style="left:200px;top:590px;width:1px;height:16px;opacity:0.3"></i>
<i style="left:201px;top:590px;width:1px;height:16px;opacity:0.7"></i>
<i style="left:200px;top:604px;width:1px;height:16px;opacity:0.3"></i>
<i style="left:201px;top:604px;width:1px;height:16px;opacity:0.7"></i>
<i style="left:200px;top:619px;width:1px;height:15px;opacity:0.3"></i>
<i style="left:201px;top:619px;width:1px;height:15px;opacity:0.7"></i>
<i style="left:200px;top:633px;width:1px;height:15px;opacity:0.3"></i>
<i style="left:201px;top:633px;width:1px;height:15px;opacity:0.7"></i>
<i style="left:200px;top:648px;width:1px;height:15px;opacity:0.3"></i>
<i style="left:201px;top:648px;width:1px;height:15px;opacity:0.7"></i>
<i style="left:200px;top:662px;width:1px;height:16px;opacity:0.3"></i>
<i style="left:201px;top:662px;width:1px;height:16px;opacity:0.7"></i>
<i style="left:200px;top:676px;width:1px;height:16px;opacity:0.3"></i>
<i style="left:201px;top:676px;width:1px;height:16px;opacity:0.7"></i>
<i style="left:299px;top:31px;width:1px;height:15px;opacity:1"></i>
<i style="left:299px;top:46px;width:1px;height:15px;opacity:1"></i>
<i style="left:299px;top:60px;width:1px;height:15px;opacity:1"></i>
<i style="left:398px;top:31px;width:1px;height:15px;opacity:0.8"></i>
<i style="left:399px;top:31px;width:1px;height:15px;opacity:0.2"></i>
<i style="left:398px;top:46px;width:1px;height:15px;opacity:0.8"></i>
<i style="left:399px;top:46px;width:1px;height:15px;opacity:0.2"></i>
<i style="left:398px;top:60px;width:1px;height:15px;opacity:0.8"></i>
<i style="left:399px;top:60px;width:1px;height:15px;opacity:0.2"></i>
<i style="left:398px;top:103px;width:1px;height:15px;opacity:0.8"></i>
<i style="left:399px;top:103px;width:1px;height:15px;opacity:0.2"></i>
<i style="left:497px;top:31px;width:1px;height:15px;opacity:0.5"></i>
<i style="left:498px;top:31px;width:1px;height:15px;opacity:0.5"></i>
<i style="left:497px;top:46px;width:1px;height:15px;opacity:0.5"></i>
<i style="left:498px;top:46px;width:1px;height:15px;opacity:0.5"></i>
<i style="left:497px;top:60px;width:1px;height:15px;opacity:0.5"></i>
<i style="left:498px;top:60px;width:1px;height:15px;opacity:0.5"></i>
<i style="left:595px;top:31px;width:1px;height:15px;opacity:0.15"></i>
<i style="left:596px;top:31px;width:1px;height:15px;opacity:1"></i>
<i style="left:597px;top:31px;width:1px;height:15px;opacity:0.35"></i>
<i style="left:595px;top:46px;width:1px;height:15px;opacity:0.15"></i>
<i style="left:596px;top:46px;width:1px;height:15px;opacity:1"></i>
<i style="left:597px;top:46px;width:1px;height:15px;opacity:0.35"></i>
<i style="left:595px;top:60px;width:1px;height:15px;opacity:0.15"></i>
<i style="left:596px;top:60px;width:1px;height:15px;opacity:1"></i>
<i style="left:597px;top:60px;width:1px;height:15px;opacity:0.35"></i>
<i style="left:595px;top:74px;width:1px;height:30px;opacity:0.15"></i>
<i style="left:596px;top:74px;width:1px;height:30px;opacity:1"></i>
<i style="left:597px;top:74px;width:1px;height:30px;opacity:0.35"></i>
<i style="left:595px;top:103px;width:1px;height:15px;opacity:0.15"></i>
<i style="left:596px;top:103px;width:1px;height:15px;opacity:1"></i>
<i style="left:597px;top:103px;width:1px;height:15px;opacity:0.35"></i>
<i style="left:595px;top:118px;width:1px;height:16px;opacity:0.15"></i>
<i style="left:596px;top:118px;width:1px;height:16px;opacity:1"></i>
<i style="left:597px;top:118px;width:1px;height:16px;opacity:0.35"></i>
<i style="left:595px;top:132px;width:1px;height:16px;opacity:0.15"></i>
<i style="left:596px;top:132px;width:1px;height:16px;opacity:1"></i>
<i style="left:597px;top:132px;width:1px;height:16px;opacity:0.35"></i>
<i style="left:595px;top:147px;width:1px;height:15px;opacity:0.15"></i>
<i style="left:596px;top:147px;width:1px;height:15px;opacity:1"></i>
<i style="left:597px;top:147px;width:1px;height:15px;opacity:0.35"></i>
<i style="left:595px;top:161px;width:1px;height:17px;opacity:0.15"></i>
<i style="left:596px;top:161px;width:1px;height:17px;opacity:1"></i>
<i style="left:597px;top:161px;width:1px;height:17px;opacity:0.35"></i>
<i style="left:595px;top:177px;width:1px;height:14px;opacity:0.15"></i>
<i style="left:596px;top:177px;width:1px;height:14px;opacity:1"></i>
<i style="left:597px;top:177px;width:1px;height:14px;opacity:0.35"></i>
<i style="left:595px;top:190px;width:1px;height:16px;opacity:0.15"></i>
<i style="left:596px;top:190px;width:1px;height:16px;opacity:1"></i>
<i style="left:597px;top:190px;width:1px;height:16px;opacity:0.35"></i>
<i style="left:595px;top:204px;width:1px;height:16px;opacity:0.15"></i>
<i style="left:596px;top:204px;width:1px;height:16px;opacity:1"></i>
<i style="left:597px;top:204px;width:1px;height:16px;opacity:0.35"></i>
<i style="left:595px;top:219px;width:1px;height:15px;opacity:0.15"></i>
<i style="left:596px;top:219px;width:1px;height:15px;opacity:1"></i>
<i style="left:597px;top:219px;width:1px;height:15px;opacity:0.35"></i>
<i style="left:595px;top:234px;width:1px;height:15px;opacity:0.15"></i>
<i style="left:596px;top:234px;width:1px;height:15px;opacity:1"></i>
<i style="left:597px;top:234px;width:1px;height:15px;opacity:0.35"></i>
<i style="left:595px;top:248px;width:1px;height:15px;opacity:0.15"></i>
<i style="left:596px;top:248px;width:1px;height:15px;opacity:1"></i>
<i style="left:597px;top:248px;width:1px;height:15px;opacity:0.35"></i>
<i style="left:595px;top:262px;width:1px;height:16px;opacity:0.15"></i>
<i style="left:596px;top:262px;width:1px;height:16px;opacity:1"></i>
<i style="left:597px;top:262px;width:1px;height:16px;opacity:0.35"></i>
<i style="left:595px;top:278px;width:1px;height:15px;opacity:0.15"></i>
<i style="left:596px;top:278px;width:1px;height:15px;opacity:1"></i>
<i style="left:597px;top:278px;width:1px;height:15px;opacity:0.35"></i>
<i style="left:595px;top:292px;width:1px;height:15px;opacity:0.15"></i>
<i style="left:596px;top:292px;width:1px;height:15px;opacity:1"></i>
<i style="left:597px;top:292px;width:1px;height:15px;opacity:0.35"></i>
<i style="left:595px;top:306px;width:1px;height:16px;opacity:0.15"></i>
<i style="left:596px;top:306px;width:1px;height:16px;opacity:1"></i>
<i style="left:597px;top:306px;width:1px;height:16px;opacity:0.35"></i>
<i style="left:595px;top:320px;width:1px;height:16px;opacity:0.15"></i>
<i style="left:596px;top:320px;width:1px;height:16px;opacity:1"></i>
<i style="left:597px;top:320px;width:1px;height:16px;opacity:0.35"></i>
<i style="left:595px;top:335px;width:1px;height:15px;opacity:0.15"></i>
<i style="left:596px;top:335px;width:1px;height:15px;opacity:1"></i>
<i style="left:597px;top:335px;width:1px;height:15px;opacity:0.35"></i>
<i style="left:595px;top:349px;width:1px;height:17px;opacity:0.15"></i>
<i style="left:596px;top:349px;width:1px;height:17px;opacity:1"></i>
<i style="left:597px;top:349px;width:1px;height:17px;opacity:0.35"></i>
<i style="left:595px;top:364px;width:1px;height:16px;opacity:0.15"></i>
<i style="left:596px;top:364px;width:1px;height:16px;opacity:1"></i>
<i style="left:597px;top:364px;width:1px;height:16px;opacity:0.35"></i>
<i style="left:595px;top:378px;width:1px;height:16px;opacity:0.15"></i>
<i style="left:596px;top:378px;width:1px;height:16px;opacity:1"></i>
<i style="left:597px;top:378px;width:1px;height:16px;opacity:0.35"></i>
<i style="left:595px;top:392px;width:1px;height:17px;opacity:0.15"></i>
<i style="left:596px;top:392px;width:1px;height:17px;opacity:1"></i>
<i style="left:597px;top:392px;width:1px;height:17px;opacity:0.35"></i>
<i style="left:595px;top:408px;width:1px;height:15px;opacity:0.15"></i>
<i style="left:596px;top:408px;width:1px;height:15px;opacity:1"></i>
<i style="left:597px;top:408px;width:1px;height:15px;opacity:0.35"></i>
<i style="left:595px;top:422px;width:1px;height:16px;opacity:0.15"></i>
<i style="left:596px;top:422px;width:1px;height:16px;opacity:1"></i>
<i style="left:597px;top:422px;width:1px;height:16px;opacity:0.35"></i>
<i style="left:595px;top:436px;width:1px;height:64px;opacity:0.15"></i>
<i style="left:596px;top:436px;width:1px;height:64px;opacity:1"></i>
<i style="left:597px;top:436px;width:1px;height:64px;opacity:0.35"></i>
<i style="left:595px;top:499px;width:1px;height:63px;opacity:0.15"></i>
<i style="left:596px;top:499px;width:1px;height:63px;opacity:1"></i>
<i style="left:597px;top:499px;width:1px;height:63px;opacity:0.35"></i>
<i style="left:595px;top:561px;width:1px;height:17px;opacity:0.15"></i>
<i style="left:596px;top:561px;width:1px;height:17px;opacity:1"></i>
<i style="left:597px;top:561px;width:1px;height:17px;opacity:0.35"></i>
<i style="left:595px;top:576px;width:1px;height:15px;opacity:0.15"></i>
<i style="left:596px;top:576px;width:1px;height:15px;opacity:1"></i>
<i style="left:597px;top:576px;width:1px;height:15px;opacity:0.35"></i>
<i style="left:595px;top:590px;width:1px;height:16px;opacity:0.15"></i>
<i style="left:596px;top:590px;width:1px;height:16px;opacity:1"></i>
<i style="left:597px;top:590px;width:1px;height:16px;opacity:0.35"></i>
<i style="left:595px;top:604px;width:1px;height:16px;opacity:0.15"></i>
<i style="left:596px;top:604px;width:1px;height:16px;opacity:1"></i>
<i style="left:597px;top:604px;width:1px;height:16px;opacity:0.35"></i>
<i style="left:595px;top:619px;width:1px;height:15px;opacity:0.15"></i>
<i style="left:596px;top:619px;width:1px;height:15px;opacity:1"></i>
<i style="left:597px;top:619px;width:1px;height:15px;opacity:0.35"></i>
<i style="left:595px;top:633px;width:1px;height:15px;opacity:0.15"></i>
<i style="left:596px;top:633px;width:1px;height:15px;opacity:1"></i>
<i style="left:597px;top:633px;width:1px;height:15px;opacity:0.35"></i>
<i style="left:595px;top:648px;width:1px;height:15px;opacity:0.15"></i>
<i style="left:596px;top:648px;width:1px;height:15px;opacity:1"></i>
<i style="left:597px;top:648px;width:1px;height:15px;opacity:0.35"></i>
<i style="left:595px;top:662px;width:1px;height:16px;opacity:0.15"></i>
<i style="left:596px;top:662px;width:1px;height:16px;opacity:1"></i>
<i style="left:597px;top:662px;width:1px;height:16px;opacity:0.35"></i>
<i style="left:595px;top:676px;width:1px;height:16px;opacity:0.15"></i>
<i style="left:596px;top:676px;width:1px;height:16px;opacity:1"></i>
<i style="left:597px;top:676px;width:1px;height:16px;opacity:0.35"></i>
<div class="c hd" style="left:2.1px;top:2px;width:199.1px;height:29.9px;background:#34a7d7;justify-content:flex-start;padding-top:6.4px"><div><div class="h1">伺服驱动器机型</div><div class="h2">JSDL2–<b class="sq"></b><b class="sq"></b><b class="sq"></b><b class="sq"></b></div></div></div>
<div class="c hd hv2" style="left:201.2px;top:2px;width:395.9px;height:15.3px;background:#34a7d7;"><div>200V 级</div></div>
<div class="c hd hv" style="left:201.2px;top:17.3px;width:98.3px;height:14.6px;background:#34a7d7;"><div style="transform:translate(0.3px,0px);">10A</div></div>
<div class="c hd hv" style="left:299.5px;top:17.3px;width:99.2px;height:14.6px;background:#34a7d7;"><div style="transform:translate(0.3px,0px);">15A</div></div>
<div class="c hd hv" style="left:398.7px;top:17.3px;width:99.3px;height:14.6px;background:#34a7d7;"><div style="transform:translate(0.3px,0px);">20A</div></div>
<div class="c hd hv" style="left:498px;top:17.3px;width:98.6px;height:14.6px;background:#34a7d7;"><div style="transform:translate(0.3px,0px);">30A</div></div>
<i class="hl" style="left:201.2px;top:16.8px;width:395.4px;height:1px"></i>
<i class="hl" style="left:299px;top:17.3px;width:1px;height:14.2px"></i>
<i class="hl" style="left:398.2px;top:17.3px;width:1px;height:14.2px"></i>
<i class="hl" style="left:497.5px;top:17.3px;width:1px;height:14.2px"></i>
<i class="hl" style="left:2.1px;top:2px;width:595px;height:1px"></i>
<i class="hl2" style="left:2.1px;top:30.9px;width:595px;height:1px"></i>
</body></html>
